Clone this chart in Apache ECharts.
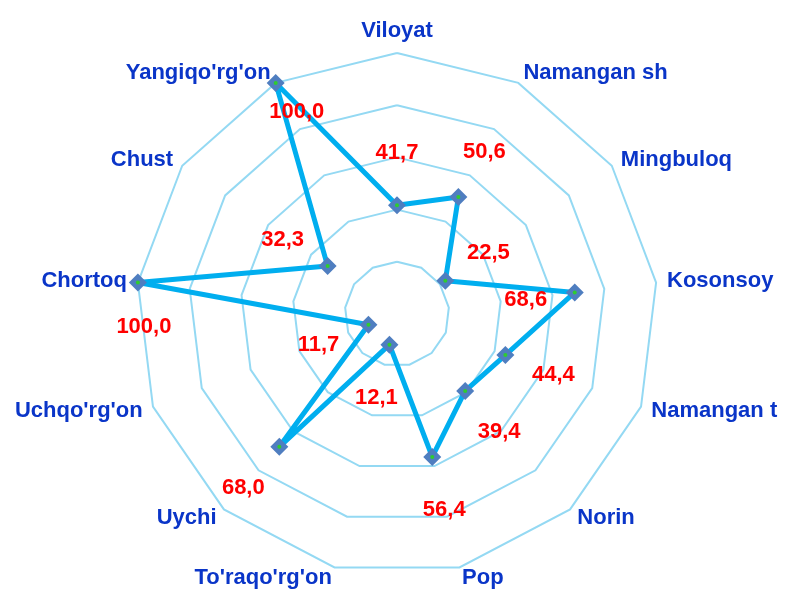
<!DOCTYPE html>
<html>
<head>
<meta charset="utf-8">
<script src="https://cdn.jsdelivr.net/npm/echarts@6/dist/echarts.min.js"></script>
<style>
  html, body { margin: 0; padding: 0; background: #ffffff; }
  #chart { width: 787px; height: 592px; }
</style>
</head>
<body>
<div id="chart"></div>
<script>
// Regions, listed clockwise from the top
const regions = ['Viloyat', 'Namangan sh', 'Mingbuloq', 'Kosonsoy', 'Namangan t', 'Norin', 'Pop',
  "To'raqo'rg'on", 'Uychi', "Uchqo'rg'on", 'Chortoq', 'Chust', "Yangiqo'rg'on"];
const values = [41.7, 50.6, 22.5, 68.6, 44.4, 39.4, 56.4, 12.1, 68.0, 11.7, 100.0, 32.3, 100.0];
const axisMax = 100;
const ringCount = 5;

// Per-region nudge of the value label away from its marker, in px [dx, dy]
const labelShift = [[0, -52], [26, -45], [43, -28], [-49, 8], [48, 20], [34, 41], [12, 53],
  [-13, 53], [-36, 41], [-50, 20], [6, 44], [-45, -26], [21, 29]];

const textFont = "'Liberation Sans', Arial, sans-serif";

// ECharts lays radar indicators out counter-clockwise; keep the first one on top
// and walk the rest backwards so the regions run clockwise.
const order = [0];
for (let i = regions.length - 1; i >= 1; i--) order.push(i);

const fmt = v => v.toFixed(1).replace('.', ',');

const rich = {};
regions.forEach((_, i) => {
  const [dx, dy] = labelShift[i];
  rich['s' + i] = {
    color: '#FF0000',
    fontSize: 22,
    fontWeight: 'bold',
    fontFamily: textFont,
    padding: [Math.max(0, 2 * dy), Math.max(0, -2 * dx), Math.max(0, -2 * dy), Math.max(0, 2 * dx)]
  };
});

const chart = echarts.init(document.getElementById('chart'), null, { renderer: 'canvas' });

chart.setOption({
  animation: false,
  backgroundColor: '#ffffff',
  radar: {
    center: [397, 314],
    radius: 261,
    startAngle: 90,
    shape: 'polygon',
    splitNumber: ringCount,
    indicator: order.map(i => ({ name: regions[i], min: 0, max: axisMax })),
    axisName: {
      color: '#0A35C8',
      fontSize: 22,
      fontWeight: 'bold',
      fontFamily: textFont
    },
    nameGap: 11,
    axisLine: { show: false },
    axisTick: { show: false },
    axisLabel: { show: false },
    splitArea: { show: false },
    splitLine: { lineStyle: { color: '#94D9F3', width: 2 } }
  },
  series: [
    {
      type: 'radar',
      z: 2,
      symbol: 'diamond',
      symbolSize: 18,
      lineStyle: { color: '#00AEEF', width: 5 },
      itemStyle: { color: '#4F7EC0' },
      label: {
        show: true,
        position: 'inside',
        formatter: p => {
          const i = order[p.dimensionIndex];
          return '{s' + i + '|' + fmt(values[i]) + '}';
        },
        rich: rich
      },
      data: [{ value: order.map(i => values[i]) }]
    },
    {
      // small green centre dot on every marker
      type: 'radar',
      z: 3,
      silent: true,
      symbol: 'circle',
      symbolSize: 4,
      lineStyle: { opacity: 0, width: 0 },
      itemStyle: { color: '#2FCC2F' },
      label: { show: false },
      data: [{ value: order.map(i => values[i]) }]
    }
  ]
});
</script>
</body>
</html>
